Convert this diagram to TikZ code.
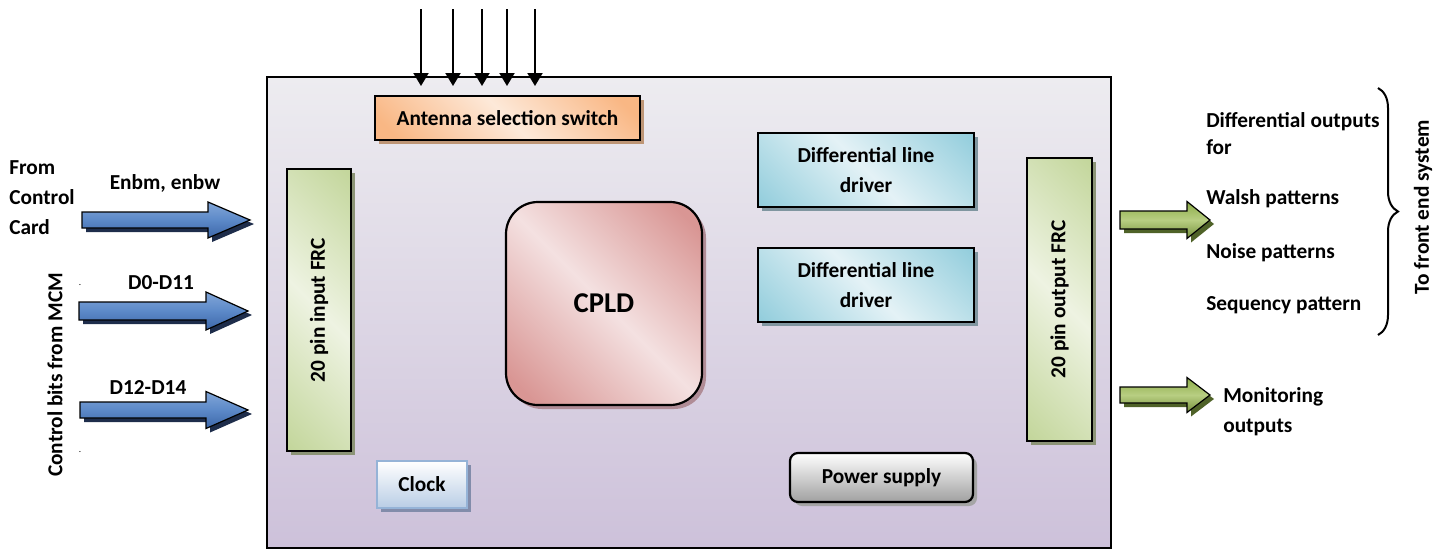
\documentclass[tikz,border=0pt]{standalone}
\usepackage{fontspec}
\setmainfont{Carlito}
\usetikzlibrary{shadows,arrows.meta,decorations.pathreplacing}

% palette
\definecolor{panelTop}{HTML}{EDECF0}
\definecolor{panelBot}{HTML}{CDC1DA}
\definecolor{antDark}{HTML}{F9B784}
\definecolor{antLight}{HTML}{FDE9D9}
\definecolor{antShadow}{HTML}{BE9676}
\definecolor{drvDark}{HTML}{92CDDC}
\definecolor{drvLight}{HTML}{E4F2F6}
\definecolor{drvShadow}{HTML}{8096A0}
\definecolor{frcDark}{HTML}{C3D69B}
\definecolor{frcLight}{HTML}{EEF3E2}
\definecolor{frcShadow}{HTML}{8C9476}
\definecolor{cpldDark}{HTML}{D99694}
\definecolor{cpldLight}{HTML}{F4E1E1}
\definecolor{cpldShadow}{HTML}{B08C96}
\definecolor{clkBorder}{HTML}{95B3D7}
\definecolor{clkFill}{HTML}{B9CDE5}
\definecolor{clkShadow}{HTML}{828CAA}
\definecolor{psuFill}{HTML}{A0A0A0}
\definecolor{psuShadow}{HTML}{A5A5A5}
\definecolor{blueTop}{HTML}{82A6D8}
\definecolor{blueMid}{HTML}{5C89C8}
\definecolor{blueBot}{HTML}{3C66A8}
\definecolor{blueShadow}{HTML}{1E2D4B}
\definecolor{greenTop}{HTML}{8CAC48}
\definecolor{greenMid}{HTML}{B8CE82}
\definecolor{greenBot}{HTML}{76923C}
\definecolor{greenShadow}{HTML}{4F6228}

% two-tone diagonal shadings: dark corners, light band through the middle
\pgfdeclarehorizontalshading{antdiag}{100bp}{color(0bp)=(antDark); color(20bp)=(antDark); color(50bp)=(antLight); color(80bp)=(antDark); color(100bp)=(antDark)}
\pgfdeclarehorizontalshading{drvdiag}{100bp}{color(0bp)=(drvDark); color(15bp)=(drvDark); color(50bp)=(drvLight); color(85bp)=(drvDark); color(100bp)=(drvDark)}
\pgfdeclarehorizontalshading{frcdiag}{100bp}{color(0bp)=(frcDark); color(15bp)=(frcDark); color(50bp)=(frcLight); color(85bp)=(frcDark); color(100bp)=(frcDark)}
\pgfdeclarehorizontalshading{cplddiag}{100bp}{color(0bp)=(cpldDark); color(20bp)=(cpldDark); color(50bp)=(cpldLight); color(80bp)=(cpldDark); color(100bp)=(cpldDark)}

% wide block arrow: start point, length, head length, half shaft, half head, style prefix
\newcommand\blockarrow[6]{%
  \begin{scope}[shift={#1}]
    \fill[#6shadow] (4,{4-#4}) -- ({#2-#3+4},{4-#4}) -- ({#2-#3+4},{4-#5}) -- (#2+4,4) -- ({#2-#3+4},{4+#5}) -- ({#2-#3+4},{4+#4}) -- (4,{4+#4}) -- cycle;
    \path[#6body] (0,-#4) -- ({#2-#3},-#4) -- ({#2-#3},-#5) -- (#2,0) -- ({#2-#3},#5) -- ({#2-#3},#4) -- (0,#4) -- cycle;
  \end{scope}}

\begin{document}
\begin{tikzpicture}[x=0.75pt,y=-0.75pt,
  font=\bfseries\fontsize{16}{19}\selectfont,
  box/.style={draw=black, line width=1.65pt, inner sep=0pt, align=center},
  shade/.style={drop shadow={shadow xshift=3pt, shadow yshift=-3pt, fill=#1, opacity=1}},
  sigarrow/.style={line width=1.5pt, -{Triangle[width=11.25pt,length=9.75pt]}},
  bluebody/.style={draw=black, line width=0.9pt, top color=blueTop, bottom color=blueBot, middle color=blueMid},
  blueshadow/.style={fill=blueShadow},
  greenbody/.style={draw=black, line width=0.9pt, top color=greenTop, bottom color=greenBot, middle color=greenMid},
  greenshadow/.style={fill=greenShadow},
  lbl/.style={inner sep=0pt}]

\useasboundingbox (0,0) rectangle (1446,550);

% board outline
\node[draw=black, line width=1.9pt, minimum width=633pt, minimum height=353.25pt,
      top color=panelTop, bottom color=panelBot, inner sep=0pt] (board) at (689,312.5) {};

% blocks on the board
\node[box, shade=antShadow, shading=antdiag, shading angle=45,
      minimum width=198.75pt, minimum height=33pt] (ant) at (507.5,118) {Antenna selection switch};
\node[box, shade=drvShadow, shading=drvdiag, shading angle=45,
      minimum width=162pt, minimum height=55.5pt] (drv1) at (866,170) {Differential line\\[3pt]driver};
\node[box, shade=drvShadow, shading=drvdiag, shading angle=45,
      minimum width=162pt, minimum height=55.5pt] (drv2) at (866,285) {Differential line\\[3pt]driver};
\node[box, shade=frcShadow, shading=frcdiag, shading angle=45,
      minimum width=48pt, minimum height=211.5pt] (infrc) at (319,310) {};
\node[rotate=90, lbl] at (infrc.center) {20 pin input FRC};
\node[box, shade=frcShadow, shading=frcdiag, shading angle=45,
      minimum width=48.75pt, minimum height=212.25pt] (outfrc) at (1059.5,299.5) {};
\node[rotate=90, lbl] at (outfrc.center) {20 pin output FRC};
\node[box, rounded corners=24pt, shade=cpldShadow, shading=cplddiag, shading angle=45,
      minimum width=147pt, minimum height=152.25pt, font=\bfseries\fontsize{21.5}{25}\selectfont] (cpld) at (604,303.5) {CPLD};
\node[draw=clkBorder, line width=1.4pt, inner sep=0pt,
      shade=clkShadow, top color=white, bottom color=clkFill,
      minimum width=67.5pt, minimum height=35.25pt] (clock) at (422,484.5) {Clock};
\node[box, rounded corners=6pt, shade=psuShadow,
      top color=white, bottom color=psuFill,
      minimum width=137.25pt, minimum height=36.75pt] (psu) at (881.5,477.5) {Power supply};

% antenna select lines entering from above
\foreach \i/\x in {1/421,2/453,3/482,4/507,5/535}{
  \coordinate (src\i) at (\x,9);
  \coordinate (dst\i) at (\x,86);
  \draw[sigarrow] (src\i) -- (dst\i);
}

% input side
\node[lbl, anchor=west, align=left, font=\bfseries\fontsize{16}{22.5}\selectfont] (from) at (9,198) {From\\Control\\Card};
\node[lbl] (enb) at (165,183) {Enbm, enbw};
\node[lbl] (dlo) at (161,283) {D0-D11};
\node[lbl] (dhi) at (148,387) {D12-D14};
\node[lbl, rotate=90] (mcm) at (55,375) {Control bits from MCM};
\node[lbl, font=\fontsize{7}{8}\selectfont] (dotA) at (80,285) {.};
\node[lbl, font=\fontsize{7}{8}\selectfont] (dotB) at (80,452) {.};

\blockarrow{(82,220)}{168}{42}{8}{18}{blue}
\blockarrow{(79,311)}{169}{42}{9}{19}{blue}
\blockarrow{(80,410)}{168}{42}{8}{18.5}{blue}

% output side
\blockarrow{(1120,220)}{90}{23}{9}{18.5}{green}
\blockarrow{(1120,395)}{90}{23}{8}{17.5}{green}

\node[lbl, anchor=west] (o1) at (1206,122) {Differential outputs};
\node[lbl, anchor=west] (o2) at (1206,147) {for};
\node[lbl, anchor=west] (o3) at (1206,199) {Walsh patterns};
\node[lbl, anchor=west] (o4) at (1206,253) {Noise patterns};
\node[lbl, anchor=west] (o5) at (1206,305) {Sequency pattern};
\node[lbl, anchor=west] (m1) at (1223,397) {Monitoring};
\node[lbl, anchor=west] (m2) at (1223,427) {outputs};

\coordinate (brtop) at (1378,88);
\coordinate (brbot) at (1378,335);
\draw[line width=1.5pt, decorate, decoration={brace, amplitude=15pt}] (brtop) -- (brbot);
\node[lbl, rotate=90] (fe) at (1423,207) {To front end system};

\end{tikzpicture}
\end{document}
